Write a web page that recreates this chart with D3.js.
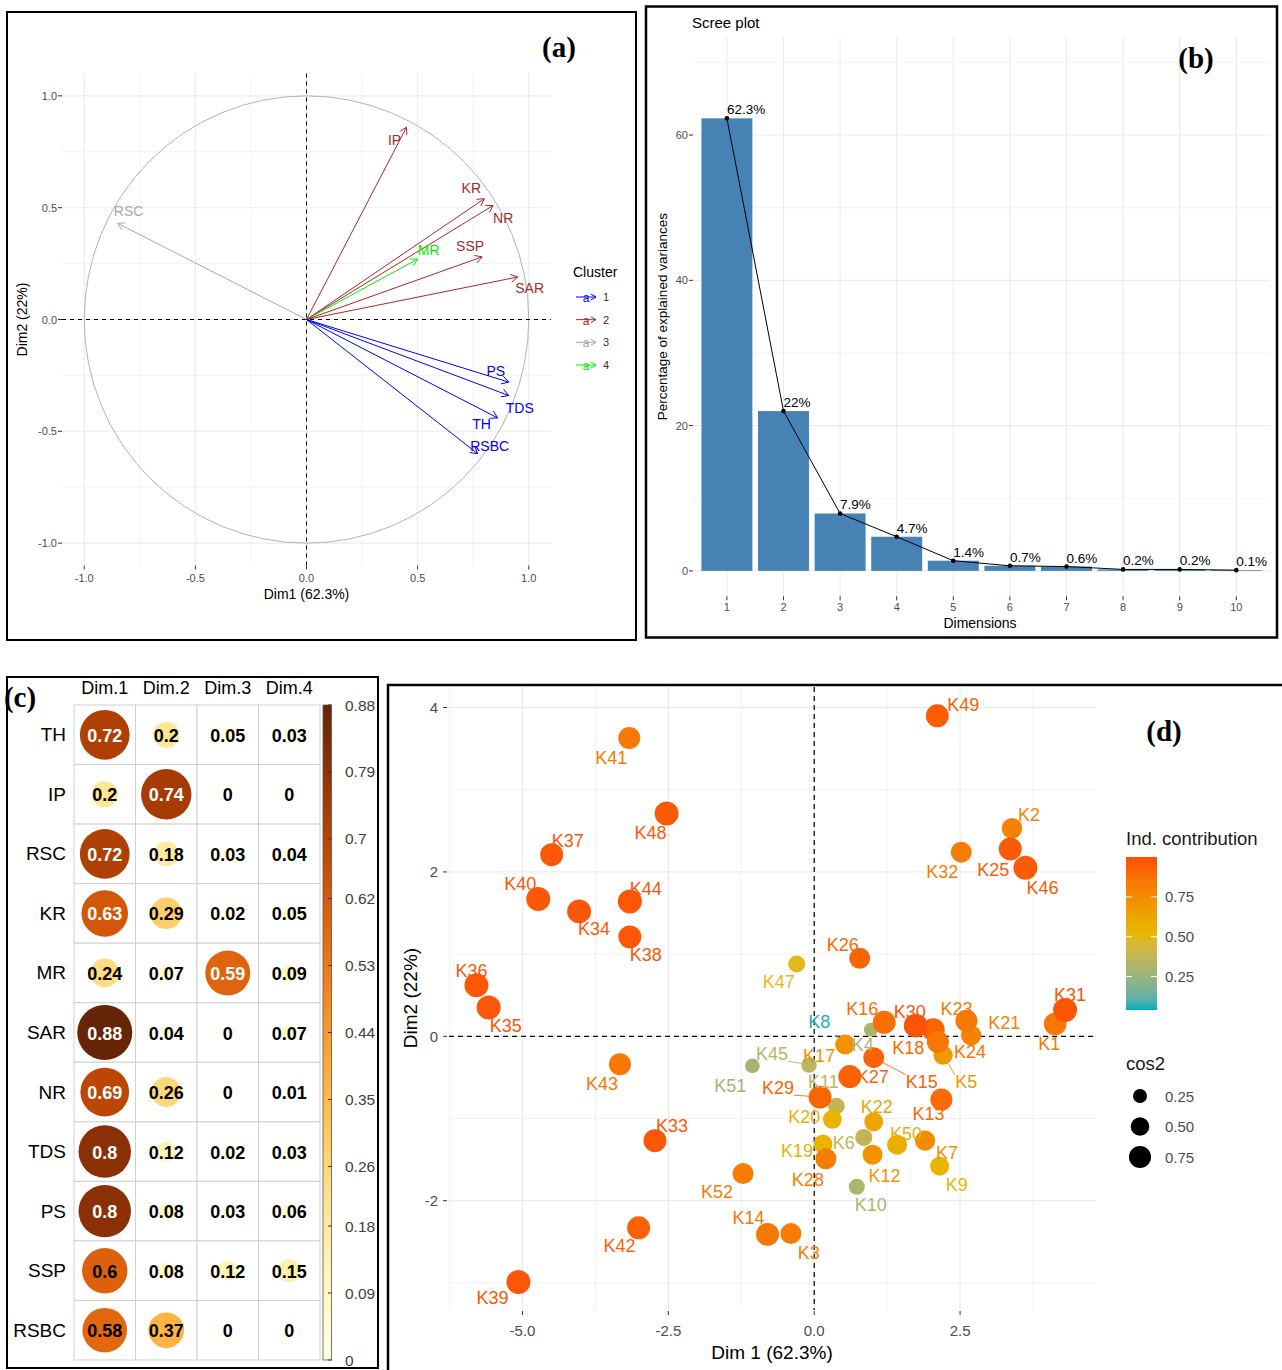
<!DOCTYPE html>
<html><head><meta charset="utf-8">
<script src="https://cdn.jsdelivr.net/npm/d3@7"></script>
<style>
html,body{margin:0;padding:0;background:#fff;}
svg{display:block;}
</style></head><body>
<svg id="fig" width="1282" height="1370"></svg>
<script>
// ---------------- data ----------------
// (a) variable coordinates on the first two dimensions
const varNames   = ["IP","KR","NR","MR","SSP","SAR","RSC","PS","TDS","TH","RSBC"];
const varDim1    = [0.45, 0.80, 0.84, 0.50, 0.79, 0.95, -0.85, 0.91, 0.91, 0.86, 0.77];
const varDim2    = [0.86, 0.54, 0.51, 0.27, 0.28, 0.19, 0.43, -0.28, -0.34, -0.44, -0.60];
const varCluster = [2, 2, 2, 4, 2, 2, 3, 1, 1, 1, 1];
const clusterIds = [1, 2, 3, 4];
const axisTicksA = [-1.0, -0.5, 0.0, 0.5, 1.0];

// (b) scree plot
const eigDims   = ["1","2","3","4","5","6","7","8","9","10"];
const eigPct    = [62.3, 22, 7.9, 4.7, 1.4, 0.7, 0.6, 0.2, 0.2, 0.1];
const eigLabels = ["62.3%","22%","7.9%","4.7%","1.4%","0.7%","0.6%","0.2%","0.2%","0.1%"];
const eigTicks  = [0, 20, 40, 60];

// (c) quality of representation (cos2) of variables
const cosRows = ["TH","IP","RSC","KR","MR","SAR","NR","TDS","PS","SSP","RSBC"];
const cosCols = ["Dim.1","Dim.2","Dim.3","Dim.4"];
const cosDim1 = [0.72, 0.2, 0.72, 0.63, 0.24, 0.88, 0.69, 0.8, 0.8, 0.6, 0.58];
const cosDim2 = [0.2, 0.74, 0.18, 0.29, 0.07, 0.04, 0.26, 0.12, 0.08, 0.08, 0.37];
const cosDim3 = [0.05, 0, 0.03, 0.02, 0.59, 0, 0, 0.02, 0.03, 0.12, 0];
const cosDim4 = [0.03, 0, 0.04, 0.05, 0.09, 0.07, 0.01, 0.03, 0.06, 0.15, 0];
const cosBarTicks = ["0","0.09","0.18","0.26","0.35","0.44","0.53","0.62","0.7","0.79","0.88"];

// (d) individuals
const indNames = ["K1","K2","K3","K4","K5","K6","K7","K8","K9","K10","K11","K12","K13",
  "K14","K15","K16","K17","K18","K19","K20","K21","K22","K23","K24","K25","K26","K27",
  "K28","K29","K30","K31","K32","K33","K34","K35","K36","K37","K38","K39","K40","K41",
  "K42","K43","K44","K45","K46","K47","K48","K49","K50","K51","K52"];
const indDim1 = [4.13, 3.39, -0.40, 0.97, 2.21, 0.85, 1.90, 0.38, 2.15, 0.73, 0.38, 1.00, 2.18,
  -0.80, 1.02, 1.20, 0.53, 2.04, 0.15, 0.31, 2.69, 1.02, 2.61, 2.12, 3.36, 0.78, 0.61,
  0.20, 0.10, 1.74, 4.30, 2.52, -2.73, -4.03, -5.58, -5.79, -4.50, -3.16, -5.07, -4.73, -3.17,
  -3.01, -3.33, -3.16, -0.09, 3.62, -0.30, -2.53, 2.11, 1.42, -1.06, -1.22];
const indDim2 = [0.15, 2.53, -2.40, 0.08, -0.23, -1.23, -1.27, 0.00, -1.58, -1.83, -0.85, -1.44, -0.77,
  -2.41, -0.26, 0.17, -0.10, 0.08, -1.31, -1.01, 0.01, -1.04, 0.19, -0.07, 2.28, 0.95, -0.49,
  -1.49, -0.74, 0.13, 0.32, 2.24, -1.27, 1.52, 0.35, 0.62, 2.21, 1.21, -2.99, 1.67, 3.63,
  -2.33, -0.34, 1.64, -0.35, 2.05, 0.88, 2.71, 3.90, -1.32, -0.36, -1.67];
const indContrib = [0.85, 0.80, 0.82, 0.30, 0.68, 0.38, 0.75, 0.05, 0.55, 0.30, 0.38, 0.72, 0.90,
  0.84, 0.93, 0.88, 0.72, 0.92, 0.55, 0.56, 0.80, 0.62, 0.84, 0.85, 0.96, 0.92, 0.93,
  0.82, 0.92, 0.98, 0.98, 0.82, 0.97, 0.97, 0.97, 0.97, 0.97, 0.97, 0.97, 0.97, 0.84,
  0.94, 0.84, 0.97, 0.34, 0.96, 0.50, 0.96, 0.95, 0.58, 0.28, 0.82];
const indCos2 = [0.76, 0.63, 0.65, 0.29, 0.55, 0.43, 0.60, 0.013, 0.53, 0.38, 0.41, 0.59, 0.72,
  0.78, 0.65, 0.78, 0.59, 0.78, 0.53, 0.53, 0.60, 0.53, 0.72, 0.72, 0.78, 0.65, 0.78,
  0.65, 0.78, 0.85, 0.85, 0.65, 0.78, 0.85, 0.85, 0.85, 0.78, 0.78, 0.85, 0.85, 0.72,
  0.78, 0.72, 0.85, 0.36, 0.85, 0.43, 0.85, 0.78, 0.59, 0.32, 0.65];
const xTicksD = [-5.0, -2.5, 0.0, 2.5];
const yTicksD = [4, 2, 0, -2];
const contribTicks = [0.25, 0.50, 0.75];
const cos2Ticks = [0.25, 0.50, 0.75];

// ---------------- layout / styling ----------------
const SANS = '"Liberation Sans", Arial, Helvetica, sans-serif';
const SERIF = '"Liberation Serif", "Times New Roman", serif';
const GRID = "#EBEBEB", TICKTXT = "#4D4D4D", TICKCOL = "#333333";
const svg = d3.select("#fig").style("font-family", SANS);

function gridLines(g, xs, ys, xScale, yScale, vals, vertical, width) {
  vals.forEach(v => {
    if (vertical) g.append("line").attr("x1", xScale(v)).attr("x2", xScale(v))
      .attr("y1", ys[0]).attr("y2", ys[1]).attr("stroke", GRID).attr("stroke-width", width);
    else g.append("line").attr("y1", yScale(v)).attr("y2", yScale(v))
      .attr("x1", xs[0]).attr("x2", xs[1]).attr("stroke", GRID).attr("stroke-width", width);
  });
}
function panelLabel(text, x, y) {
  svg.append("text").attr("x", x).attr("y", y).attr("text-anchor", "middle")
    .attr("dominant-baseline", "central").style("font-family", SERIF)
    .style("font-weight", "bold").style("font-size", "29px").text(text);
}
function arrowHeadPath(x1, y1, x2, y2, len) {
  const a = Math.atan2(y2 - y1, x2 - x1), s = Math.PI / 6;
  return `M${x2 - len * Math.cos(a - s)},${y2 - len * Math.sin(a - s)}L${x2},${y2}` +
         `L${x2 - len * Math.cos(a + s)},${y2 - len * Math.sin(a + s)}`;
}

// ================= (a) variables correlation circle =================
(function () {
  const g = svg.append("g");
  const x = d3.scaleLinear().domain([-1.1, 1.1]).range([62, 551]);
  const y = d3.scaleLinear().domain([-1.1, 1.1]).range([565.5, 73.5]);
  const X0 = x.range(), Y0 = [y.range()[1], y.range()[0]];
  gridLines(g, X0, Y0, x, y, [-0.75, -0.25, 0.25, 0.75], true, 0.6);
  gridLines(g, X0, Y0, x, y, [-0.75, -0.25, 0.25, 0.75], false, 0.6);
  gridLines(g, X0, Y0, x, y, axisTicksA, true, 1.1);
  gridLines(g, X0, Y0, x, y, axisTicksA, false, 1.1);

  g.append("ellipse").attr("cx", x(0)).attr("cy", y(0))
    .attr("rx", x(1) - x(0)).attr("ry", y(0) - y(1))
    .attr("fill", "none").attr("stroke", "#B3B3B3").attr("stroke-width", 1);
  g.append("line").attr("x1", x(0)).attr("x2", x(0)).attr("y1", Y0[0]).attr("y2", Y0[1])
    .attr("stroke", "#000").attr("stroke-dasharray", "4,4").attr("stroke-width", 1);
  g.append("line").attr("y1", y(0)).attr("y2", y(0)).attr("x1", X0[0]).attr("x2", X0[1])
    .attr("stroke", "#000").attr("stroke-dasharray", "4,4").attr("stroke-width", 1);

  const clusterColor = d3.scaleOrdinal().domain(clusterIds)
    .range(["#0000FF", "#A52A2A", "#A9A9A9", "#00EE00"]);
  const labelNudge = { IP: [-12, 13], KR: [-13, -11], NR: [10, 13], MR: [11, -9], SSP: [-12, -11],
    SAR: [12, 11], RSC: [11, -12], PS: [-13, -11], TDS: [11, 12], TH: [-16, 6], RSBC: [12, -8] };

  varNames.forEach((n, i) => {
    const col = clusterColor(varCluster[i]);
    const x1 = x(0), y1 = y(0), x2 = x(varDim1[i]), y2 = y(varDim2[i]);
    g.append("line").attr("x1", x1).attr("y1", y1).attr("x2", x2).attr("y2", y2)
      .attr("stroke", col).attr("stroke-width", 1);
    g.append("path").attr("d", arrowHeadPath(x1, y1, x2, y2, 8))
      .attr("fill", "none").attr("stroke", col).attr("stroke-width", 1);
  });
  varNames.forEach((n, i) => {
    const col = clusterColor(varCluster[i]);
    const nd = labelNudge[n];
    g.append("text").attr("x", x(varDim1[i]) + nd[0]).attr("y", y(varDim2[i]) + nd[1])
      .attr("text-anchor", "middle").attr("dominant-baseline", "central")
      .style("font-size", "14px").attr("fill", col).text(n);
  });

  // axes
  axisTicksA.forEach(v => {
    g.append("line").attr("x1", X0[0] - 4).attr("x2", X0[0]).attr("y1", y(v)).attr("y2", y(v))
      .attr("stroke", TICKCOL).attr("stroke-width", 1);
    g.append("text").attr("x", X0[0] - 5).attr("y", y(v)).attr("text-anchor", "end")
      .attr("dominant-baseline", "central").style("font-size", "11px").attr("fill", TICKTXT)
      .text(v.toFixed(1));
    g.append("line").attr("y1", Y0[1]).attr("y2", Y0[1] + 4).attr("x1", x(v)).attr("x2", x(v))
      .attr("stroke", TICKCOL).attr("stroke-width", 1);
    g.append("text").attr("x", x(v)).attr("y", Y0[1] + 12).attr("text-anchor", "middle")
      .attr("dominant-baseline", "central").style("font-size", "11px").attr("fill", TICKTXT)
      .text(v.toFixed(1));
  });
  g.append("text").attr("x", x(0)).attr("y", 594).attr("text-anchor", "middle")
    .attr("dominant-baseline", "central").style("font-size", "14px").text("Dim1 (62.3%)");
  g.append("text").attr("transform", `translate(22,${y(0)}) rotate(-90)`)
    .attr("text-anchor", "middle").attr("dominant-baseline", "central")
    .style("font-size", "14px").text("Dim2 (22%)");

  // legend
  g.append("text").attr("x", 573).attr("y", 272).attr("dominant-baseline", "central")
    .style("font-size", "14px").text("Cluster");
  const legY = d3.scalePoint().domain(clusterIds).range([297, 365]);
  clusterIds.forEach(c => {
    const col = clusterColor(c), yy = legY(c);
    g.append("line").attr("x1", 576).attr("x2", 596).attr("y1", yy).attr("y2", yy)
      .attr("stroke", col).attr("stroke-width", 1);
    g.append("path").attr("d", arrowHeadPath(576, yy, 596, yy, 6))
      .attr("fill", "none").attr("stroke", col).attr("stroke-width", 1);
    g.append("text").attr("x", 586).attr("y", yy + 1).attr("text-anchor", "middle")
      .attr("dominant-baseline", "central").style("font-size", "12px").attr("fill", col).text("a");
    g.append("text").attr("x", 603).attr("y", yy).attr("dominant-baseline", "central")
      .style("font-size", "11px").attr("fill", "#333").text(c);
  });

  svg.append("rect").attr("x", 7).attr("y", 12).attr("width", 629).attr("height", 628)
    .attr("fill", "none").attr("stroke", "#000").attr("stroke-width", 2);
  panelLabel("(a)", 559, 47);
})();

// ================= (b) scree plot =================
(function () {
  const g = svg.append("g");
  const x = d3.scalePoint().domain(eigDims).range([726.9, 1236.3]);
  const y = d3.scaleLinear().domain([-3.5, 73.5]).range([596.3, 37]);
  const X0 = [693, 1270.3], Y0 = [37, 596.3];
  gridLines(g, X0, Y0, x, y, [10, 30, 50, 70], false, 0.6);
  gridLines(g, X0, Y0, x, y, eigTicks, false, 1.1);
  gridLines(g, X0, Y0, x, y, eigDims, true, 1.1);

  const bw = x.step() * 0.9;
  g.selectAll("rect.bar").data(eigPct).enter().append("rect")
    .attr("x", (d, i) => x(eigDims[i]) - bw / 2).attr("width", bw)
    .attr("y", d => y(d)).attr("height", d => y(0) - y(d)).attr("fill", "#4682B4");
  g.append("path").datum(eigPct)
    .attr("d", d3.line().x((d, i) => x(eigDims[i])).y(d => y(d)))
    .attr("fill", "none").attr("stroke", "#000").attr("stroke-width", 1);
  g.selectAll("circle.pt").data(eigPct).enter().append("circle")
    .attr("cx", (d, i) => x(eigDims[i])).attr("cy", d => y(d)).attr("r", 2.3).attr("fill", "#000");
  g.selectAll("text.lab").data(eigPct).enter().append("text")
    .attr("x", (d, i) => x(eigDims[i])).attr("y", d => y(d) - 4)
    .style("font-size", "13.5px").attr("fill", "#000").text((d, i) => eigLabels[i]);

  eigTicks.forEach(v => {
    g.append("line").attr("x1", X0[0] - 4).attr("x2", X0[0]).attr("y1", y(v)).attr("y2", y(v))
      .attr("stroke", TICKCOL);
    g.append("text").attr("x", X0[0] - 5).attr("y", y(v)).attr("text-anchor", "end")
      .attr("dominant-baseline", "central").style("font-size", "11px").attr("fill", TICKTXT).text(v);
  });
  eigDims.forEach(d => {
    g.append("line").attr("x1", x(d)).attr("x2", x(d)).attr("y1", Y0[1]).attr("y2", Y0[1] + 4)
      .attr("stroke", TICKCOL);
    g.append("text").attr("x", x(d)).attr("y", Y0[1] + 11).attr("text-anchor", "middle")
      .attr("dominant-baseline", "central").style("font-size", "11px").attr("fill", TICKTXT).text(d);
  });
  g.append("text").attr("x", 692).attr("y", 22).attr("dominant-baseline", "central")
    .style("font-size", "15px").text("Scree plot");
  g.append("text").attr("x", 980).attr("y", 623).attr("text-anchor", "middle")
    .attr("dominant-baseline", "central").style("font-size", "14px").text("Dimensions");
  g.append("text").attr("transform", `translate(662,${(Y0[0] + Y0[1]) / 2}) rotate(-90)`)
    .attr("text-anchor", "middle").attr("dominant-baseline", "central")
    .style("font-size", "13.5px").text("Percentage of explained variances");

  svg.append("rect").attr("x", 646).attr("y", 6.5).attr("width", 631).attr("height", 631)
    .attr("fill", "none").attr("stroke", "#000").attr("stroke-width", 2.5);
  panelLabel("(b)", 1196, 58);
})();

// ================= (c) cos2 circle matrix =================
(function () {
  const g = svg.append("g");
  const cols = d3.scaleBand().domain(cosCols).range([74, 320]);
  const rows = d3.scaleBand().domain(cosRows).range([705, 1360]);
  const color = d3.scaleSequential(d3.interpolateYlOrBr).domain([0, 0.88]);
  const rad = d3.scaleSqrt().domain([0, 0.88]).range([0, 27.5]);
  const table = [cosDim1, cosDim2, cosDim3, cosDim4];
  // numbers printed in white on the darker discs
  const whiteNumbers = { TH: ["Dim.1"], IP: ["Dim.2"], RSC: ["Dim.1"], KR: ["Dim.1"], MR: ["Dim.3"],
    SAR: ["Dim.1"], NR: ["Dim.1"], TDS: ["Dim.1"], PS: ["Dim.1"] };

  cosRows.forEach((r, ri) => {
    cosCols.forEach((c, ci) => {
      g.append("rect").attr("x", cols(c)).attr("y", rows(r))
        .attr("width", cols.bandwidth()).attr("height", rows.bandwidth())
        .attr("fill", "#fff").attr("stroke", "#D0D0D0").attr("stroke-width", 1);
    });
  });
  cosRows.forEach((r, ri) => {
    cosCols.forEach((c, ci) => {
      const v = table[ci][ri];
      const cx = cols(c) + cols.bandwidth() / 2, cy = rows(r) + rows.bandwidth() / 2;
      if (v > 0) g.append("circle").attr("cx", cx).attr("cy", cy).attr("r", rad(v)).attr("fill", color(v));
      const white = (whiteNumbers[r] || []).includes(c);
      g.append("text").attr("x", cx).attr("y", cy + 1).attr("text-anchor", "middle")
        .attr("dominant-baseline", "central").style("font-size", "18px").style("font-weight", "bold")
        .attr("fill", white ? "#fff" : "#000").text(String(v));
    });
    g.append("text").attr("x", 66).attr("y", rows(r) + rows.bandwidth() / 2)
      .attr("text-anchor", "end").attr("dominant-baseline", "central")
      .style("font-size", "19px").text(r);
  });
  cosCols.forEach(c => {
    g.append("text").attr("x", cols(c) + cols.bandwidth() / 2).attr("y", 688)
      .attr("text-anchor", "middle").attr("dominant-baseline", "central")
      .style("font-size", "18px").text(c);
  });

  // colour bar
  const cb = d3.scaleLinear().domain([0, 0.88]).range([1360, 705]);
  const defs = svg.append("defs");
  const lg = defs.append("linearGradient").attr("id", "cbarC")
    .attr("x1", 0).attr("y1", 1).attr("x2", 0).attr("y2", 0);
  d3.range(0, 1.0001, 0.05).forEach(t => {
    lg.append("stop").attr("offset", t).attr("stop-color", color(t * 0.88));
  });
  g.append("rect").attr("x", 323).attr("y", cb(0.88)).attr("width", 8.5)
    .attr("height", cb(0) - cb(0.88)).attr("fill", "url(#cbarC)")
    .attr("stroke", "#555").attr("stroke-width", 0.8);
  cosBarTicks.forEach(t => {
    const v = parseFloat(t);
    g.append("line").attr("x1", 328).attr("x2", 331.5).attr("y1", cb(v)).attr("y2", cb(v))
      .attr("stroke", "#333").attr("stroke-width", 1);
    g.append("text").attr("x", 345).attr("y", cb(v)).attr("dominant-baseline", "central")
      .style("font-size", "15.5px").attr("fill", "#404040").text(t);
  });

  svg.append("rect").attr("x", 7).attr("y", 677).attr("width", 371).attr("height", 691)
    .attr("fill", "none").attr("stroke", "#000").attr("stroke-width", 2);
  panelLabel("(c)", 20, 697);
})();

// ================= (d) individuals map =================
(function () {
  const g = svg.append("g");
  const x = d3.scaleLinear().domain([-6.26, 4.83]).range([449, 1096]);
  const y = d3.scaleLinear().domain([-3.33, 4.25]).range([1310, 687]);
  const X0 = x.range(), Y0 = [687, 1310];
  gridLines(g, X0, Y0, x, y, [-6.25, -3.75, -1.25, 1.25, 3.75], true, 0.7);
  gridLines(g, X0, Y0, x, y, [3, 1, -1, -3], false, 0.7);
  gridLines(g, X0, Y0, x, y, xTicksD, true, 1.2);
  gridLines(g, X0, Y0, x, y, yTicksD, false, 1.2);
  g.append("line").attr("x1", x(0)).attr("x2", x(0)).attr("y1", Y0[0]).attr("y2", Y0[1])
    .attr("stroke", "#000").attr("stroke-dasharray", "5,4").attr("stroke-width", 1.2);
  g.append("line").attr("y1", y(0)).attr("y2", y(0)).attr("x1", X0[0]).attr("x2", X0[1])
    .attr("stroke", "#000").attr("stroke-dasharray", "5,4").attr("stroke-width", 1.2);

  const color = d3.scaleLinear().domain([0.04, 0.52, 1.0])
    .range(["#00AFBB", "#E7B800", "#FC4E07"]).interpolate(d3.interpolateLab);
  const size = d3.scaleSqrt().domain([0, 1]).range([0, 13]);

  const labelNudge = {
    K1: [-6, 20], K2: [17, -13], K3: [18, 19], K4: [-8, 15], K5: [23, 27], K6: [-20, 6],
    K7: [22, 12], K8: [-17, -14], K9: [17, 19], K10: [14, 18], K11: [-13, -24], K12: [12, 21],
    K13: [-13, 14], K14: [-19, -16], K15: [48, 24], K16: [-22, -13], K17: [-26, 11],
    K18: [-25, 18], K19: [-26, 7], K20: [-28, -2], K21: [33, -12], K22: [3, -15],
    K23: [-10, -12], K24: [32, 10], K25: [-17, 21], K26: [-17, -13], K27: [23, 0],
    K28: [-18, 21], K29: [-42, -9], K30: [-6, -14], K31: [5, -15], K32: [-19, 20],
    K33: [17, -15], K34: [15, 18], K35: [17, 18], K36: [-5, -14], K37: [16, -14],
    K38: [16, 18], K39: [-26, 16], K40: [-18, -15], K41: [-18, 20], K42: [-19, 18],
    K43: [-18, 20], K44: [16, -13], K45: [-37, -11], K46: [17, 20], K47: [-18, 18],
    K48: [-16, 19], K49: [26, -11], K50: [9, -11], K51: [-22, 20], K52: [-26, 18]
  };
  const leaders = ["K5", "K15", "K29", "K45"];

  indNames.forEach((n, i) => {
    g.append("circle").attr("cx", x(indDim1[i])).attr("cy", y(indDim2[i]))
      .attr("r", size(indCos2[i])).attr("fill", color(indContrib[i]));
  });
  indNames.forEach((n, i) => {
    const px = x(indDim1[i]), py = y(indDim2[i]), nd = labelNudge[n], col = color(indContrib[i]);
    const t = g.append("text").attr("x", px + nd[0]).attr("y", py + nd[1])
      .attr("text-anchor", "middle").attr("dominant-baseline", "central")
      .style("font-size", "18px").attr("fill", col).text(n);
    if (leaders.includes(n)) {
      const b = t.node().getBBox();
      const lx = Math.max(b.x, Math.min(px, b.x + b.width));
      const ly = Math.max(b.y + 3, Math.min(py, b.y + b.height - 3));
      const d = Math.hypot(px - lx, py - ly), r = size(indCos2[i]);
      if (d > r) {
        g.append("line").attr("x1", lx).attr("y1", ly)
          .attr("x2", px + (lx - px) * r / d).attr("y2", py + (ly - py) * r / d)
          .attr("stroke", col).attr("stroke-width", 0.9);
      }
    }
  });

  // axes
  yTicksD.forEach(v => {
    g.append("line").attr("x1", X0[0] - 6).attr("x2", X0[0] - 2).attr("y1", y(v)).attr("y2", y(v))
      .attr("stroke", TICKCOL);
    g.append("text").attr("x", X0[0] - 11).attr("y", y(v)).attr("text-anchor", "end")
      .attr("dominant-baseline", "central").style("font-size", "15px").attr("fill", TICKTXT).text(v);
  });
  xTicksD.forEach(v => {
    g.append("line").attr("x1", x(v)).attr("x2", x(v)).attr("y1", Y0[1] + 1).attr("y2", Y0[1] + 5)
      .attr("stroke", TICKCOL);
    g.append("text").attr("x", x(v)).attr("y", Y0[1] + 20).attr("text-anchor", "middle")
      .attr("dominant-baseline", "central").style("font-size", "15px").attr("fill", TICKTXT)
      .text(v.toFixed(1));
  });
  g.append("text").attr("x", 772).attr("y", 1352).attr("text-anchor", "middle")
    .attr("dominant-baseline", "central").style("font-size", "19px").text("Dim 1 (62.3%)");
  g.append("text").attr("transform", "translate(410,998) rotate(-90)")
    .attr("text-anchor", "middle").attr("dominant-baseline", "central")
    .style("font-size", "19px").text("Dim2 (22%)");

  // colour legend
  g.append("text").attr("x", 1126).attr("y", 838).attr("dominant-baseline", "central")
    .style("font-size", "18.5px").attr("fill", "#1a1a1a").text("Ind. contribution");
  const lb = d3.scaleLinear().domain([0.04, 1.0]).range([1010, 857]);
  const lgD = svg.append("defs").append("linearGradient").attr("id", "cbarD")
    .attr("x1", 0).attr("y1", 1).attr("x2", 0).attr("y2", 0);
  d3.range(0, 1.0001, 0.05).forEach(t => {
    lgD.append("stop").attr("offset", t).attr("stop-color", color(0.04 + t * 0.96));
  });
  g.append("rect").attr("x", 1126).attr("y", lb(1.0)).attr("width", 31)
    .attr("height", lb(0.04) - lb(1.0)).attr("fill", "url(#cbarD)");
  contribTicks.forEach(v => {
    g.append("line").attr("x1", 1126).attr("x2", 1132).attr("y1", lb(v)).attr("y2", lb(v))
      .attr("stroke", "#fff").attr("stroke-width", 1);
    g.append("line").attr("x1", 1151).attr("x2", 1157).attr("y1", lb(v)).attr("y2", lb(v))
      .attr("stroke", "#fff").attr("stroke-width", 1);
    g.append("text").attr("x", 1165).attr("y", lb(v)).attr("dominant-baseline", "central")
      .style("font-size", "15px").attr("fill", TICKTXT).text(v.toFixed(2));
  });

  // size legend
  g.append("text").attr("x", 1126).attr("y", 1063).attr("dominant-baseline", "central")
    .style("font-size", "18.5px").attr("fill", "#1a1a1a").text("cos2");
  const sy = d3.scalePoint().domain(cos2Ticks).range([1096, 1157]);
  cos2Ticks.forEach(v => {
    g.append("circle").attr("cx", 1140).attr("cy", sy(v)).attr("r", size(v) * 0.85 + 1.5).attr("fill", "#000");
    g.append("text").attr("x", 1165).attr("y", sy(v)).attr("dominant-baseline", "central")
      .style("font-size", "15px").attr("fill", TICKTXT).text(v.toFixed(2));
  });

  svg.append("rect").attr("x", 388).attr("y", 685).attr("width", 900).attr("height", 700)
    .attr("fill", "none").attr("stroke", "#000").attr("stroke-width", 2.5);
  panelLabel("(d)", 1164, 731);
})();
</script>
</body></html>
